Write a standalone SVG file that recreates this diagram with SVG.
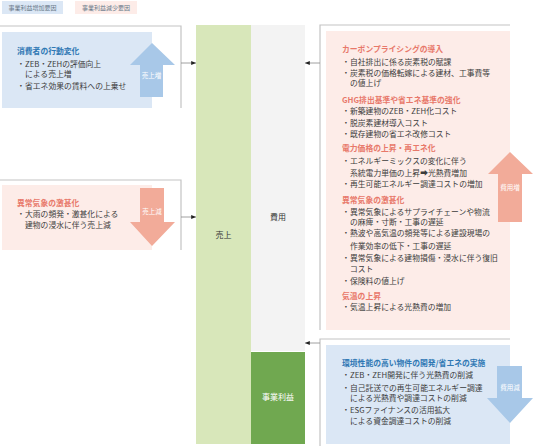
<svg xmlns="http://www.w3.org/2000/svg" width="533" height="447" viewBox="0 0 533 447">
<style>
text{font-family:"Noto Sans CJK JP","Noto Sans",sans-serif;}
.t{font-size:7.8px;fill:#3c3c3c;}
.hp{font-size:7.8px;fill:#e8786a;font-weight:bold;}
.hb{font-size:7.8px;fill:#2f78b4;font-weight:bold;}
.lg{font-size:6px;fill:#6a7a8a;}
.al{font-size:6.5px;fill:#ffffff;text-anchor:middle;}
.br{fill:none;stroke:#c4c4c4;stroke-width:1.2;}
.ar{fill:none;stroke:#888;stroke-width:0.8;}
</style>
<defs>
<marker id="ah" viewBox="0 0 10 10" refX="10" refY="5" markerWidth="6" markerHeight="6" orient="auto">
<path d="M0,1 L10,5 L0,9 z" fill="#222"/>
</marker>
</defs>

<g id="legend">
<rect x="2" y="1" width="61" height="13" fill="#dbe7f5"/>
<text class="lg" x="32.5" y="10" text-anchor="middle">事業利益増加要因</text>
<rect x="75" y="1" width="62" height="13" fill="#fdece8"/>
<text class="lg" x="106" y="10" text-anchor="middle">事業利益減少要因</text>
</g>

<g id="col-sales">
<rect x="196" y="25" width="55" height="419" fill="#d8e7ba"/>
<text x="223.5" y="238" font-size="8px" fill="#333" text-anchor="middle">売上</text>
</g>
<g id="col-cost">
<rect x="251" y="25" width="54" height="326" fill="#f3f3f3"/>
<text x="278" y="220" font-size="8px" fill="#333" text-anchor="middle">費用</text>
</g>
<g id="col-profit">
<rect x="251" y="352" width="54" height="92" fill="#70a850"/>
<text x="278" y="400" font-size="8px" fill="#fff" text-anchor="middle">事業利益</text>
</g>

<g id="connectors">
<path class="br" d="M0,26 H181 V108"/>
<path class="br" d="M0,180 H181 V250"/>
<path class="br" d="M510,25 H320 V330"/>
<path class="br" d="M510,339 H320 V446"/>
<line class="ar" x1="181" y1="63" x2="196" y2="63" marker-end="url(#ah)"/>
<line class="ar" x1="181" y1="217" x2="196" y2="217" marker-end="url(#ah)"/>
<line class="ar" x1="320" y1="63" x2="305" y2="63" marker-end="url(#ah)"/>
<line class="ar" x1="320" y1="343" x2="305" y2="343" marker-end="url(#ah)"/>
</g>

<g id="box-consumer">
<rect x="2" y="32" width="150" height="76" fill="#dbe7f5"/>
<polygon points="152,43 175,65 163,65 163,97 140,97 140,65 130,65" fill="#a8c8e8"/>
<text class="al" x="151.5" y="78">売上増</text>
<text class="hb" x="17" y="54">消費者の行動変化</text>
<text class="t" x="17" y="67">・</text><text class="t" x="25" y="67">ZEB・ZEHの評価向上</text>
<text class="t" x="25" y="77">による売上増</text>
<text class="t" x="17" y="89">・</text><text class="t" x="25" y="89">省エネ効果の賃料への上乗せ</text>
</g>

<g id="box-weather-sales">
<rect x="2" y="185" width="150" height="65" fill="#fdece8"/>
<polygon points="140,188 164,188 164,222 175,222 152,246 130,222 140,222" fill="#f2ab99"/>
<text class="al" x="152" y="214">売上減</text>
<text class="hp" x="17" y="206">異常気象の激甚化</text>
<text class="t" x="17" y="217">・</text><text class="t" x="25" y="217">大雨の頻発・激甚化による</text>
<text class="t" x="25" y="228">建物の浸水に伴う売上減</text>
</g>

<g id="box-cost-increase">
<rect x="326" y="31" width="184" height="299" fill="#fdece8"/>
<polygon points="510,152 533,174 522,174 522,222 498,222 498,174 488,174" fill="#f2ab99"/>
<text class="al" x="510" y="190">費用増</text>
<text class="hp" x="342" y="52">カーボンプライシングの導入</text>
<text class="t" x="342" y="65">・</text><text class="t" x="350" y="65">自社排出に係る炭素税の賦課</text>
<text class="t" x="342" y="76">・</text><text class="t" x="350" y="76">炭素税の価格転嫁による建材、工事費等</text>
<text class="t" x="350" y="86">の値上げ</text>
<text class="hp" x="342" y="103">GHG排出基準や省エネ基準の強化</text>
<text class="t" x="342" y="114">・</text><text class="t" x="350" y="114">新築建物のZEB・ZEH化コスト</text>
<text class="t" x="342" y="126">・</text><text class="t" x="350" y="126">脱炭素建材導入コスト</text>
<text class="t" x="342" y="137">・</text><text class="t" x="350" y="137">既存建物の省エネ改修コスト</text>
<text class="hp" x="342" y="151">電力価格の上昇・再エネ化</text>
<text class="t" x="342" y="164">・</text><text class="t" x="350" y="164">エネルギーミックスの変化に伴う</text>
<text class="t" x="350" y="176">系統電力単価の上昇➡光熱費増加</text>
<text class="t" x="342" y="187">・</text><text class="t" x="350" y="187">再生可能エネルギー調達コストの増加</text>
<text class="hp" x="342" y="203">異常気象の激甚化</text>
<text class="t" x="342" y="215">・</text><text class="t" x="350" y="215">異常気象によるサプライチェーンや物流</text>
<text class="t" x="350" y="225">の麻痺・寸断・工事の遅延</text>
<text class="t" x="342" y="236">・</text><text class="t" x="350" y="236">熱波や高気温の頻発等による建設現場の</text>
<text class="t" x="350" y="249">作業効率の低下・工事の遅延</text>
<text class="t" x="342" y="261">・</text><text class="t" x="350" y="261">異常気象による建物損傷・浸水に伴う復旧</text>
<text class="t" x="350" y="272">コスト</text>
<text class="t" x="342" y="284">・</text><text class="t" x="350" y="284">保険料の値上げ</text>
<text class="hp" x="342" y="299">気温の上昇</text>
<text class="t" x="342" y="310">・</text><text class="t" x="350" y="310">気温上昇による光熱費の増加</text>
</g>

<g id="box-cost-decrease">
<rect x="326" y="345" width="184" height="99" fill="#dbe7f5"/>
<polygon points="497,366 522,366 522,398 533,398 510,423 487,398 497,398" fill="#a8c8e8"/>
<text class="al" x="510" y="390">費用減</text>
<text class="hb" x="342" y="366">環境性能の高い物件の開発/省エネの実施</text>
<text class="t" x="342" y="378">・</text><text class="t" x="350" y="378">ZEB・ZEH開発に伴う光熱費の削減</text>
<text class="t" x="342" y="391">・</text><text class="t" x="350" y="391">自己託送での再生可能エネルギー調達</text>
<text class="t" x="350" y="401">による光熱費や調達コストの削減</text>
<text class="t" x="342" y="413">・</text><text class="t" x="350" y="413">ESGファイナンスの活用拡大</text>
<text class="t" x="350" y="424">による資金調達コストの削減</text>
</g>
</svg>
